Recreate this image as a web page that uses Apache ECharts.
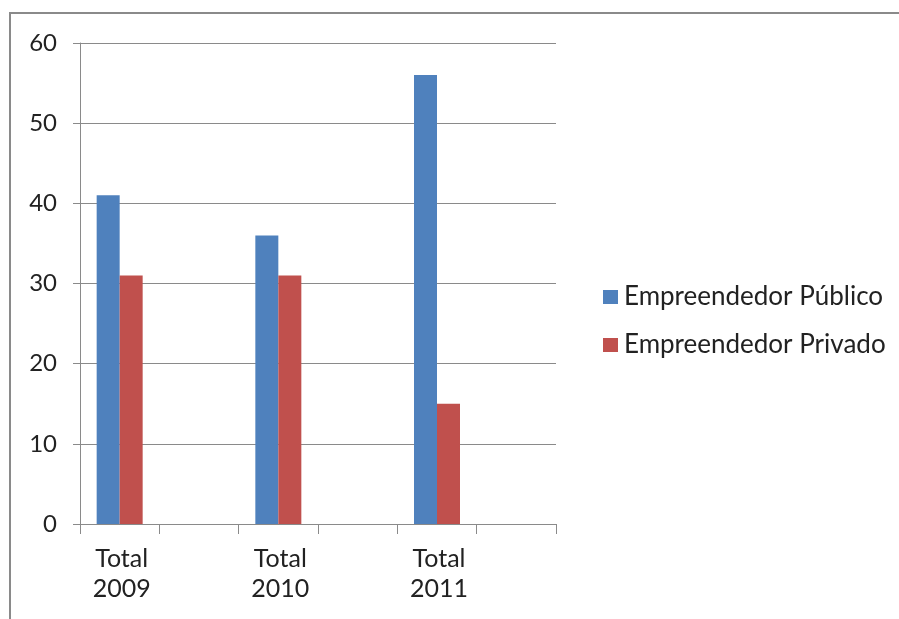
<!DOCTYPE html>
<html><head><meta charset="utf-8">
<script src="https://cdn.jsdelivr.net/npm/echarts@6/dist/echarts.min.js"></script>
<style>html,body{margin:0;padding:0;background:#fff}#c{width:899px;height:619px}</style>
</head><body><div id="c"></div>
<script>
const categories = ['Total\n2009', '', 'Total\n2010', '', 'Total\n2011', ''];
const publico = [41, null, 36, null, 56, null];
const privado = [31, null, 31, null, 15, null];
const seriesNames = ['Empreendedor Público', 'Empreendedor Privado'];
const yTicks = { min: 0, max: 60, interval: 10 };

const FONT = 'Lato';
const chart = echarts.init(document.getElementById('c'), null, { renderer: 'canvas' });
chart.setOption({
  animation: false,
  backgroundColor: '#fff',
  textStyle: { fontFamily: FONT },
  graphic: [{
    type: 'rect', z: -1, silent: true,
    shape: { x: 10, y: 13, width: 1000, height: 1000 },
    style: { fill: 'none', stroke: '#8a8a8a', lineWidth: 2 }
  }],
  grid: { left: 80, right: 343, top: 43, bottom: 95, containLabel: false },
  legend: {
    orient: 'vertical', left: 598, top: 279,
    itemWidth: 15, itemHeight: 14, itemGap: 22,
    icon: 'rect',
    textStyle: { fontFamily: FONT, fontSize: 26, color: '#222', padding: [0, 0, 0, 1] },
    data: seriesNames
  },
  xAxis: {
    type: 'category', data: categories,
    axisLine: { lineStyle: { color: '#8a8a8a', width: 1 } },
    axisTick: { show: true, interval: 0, alignWithLabel: false, length: 10, lineStyle: { color: '#8a8a8a' } },
    axisLabel: { interval: 0, fontSize: 25, color: '#222', margin: 20, lineHeight: 30, fontFamily: FONT, padding: [0, 0, 0, 4] }
  },
  yAxis: {
    type: 'value', min: yTicks.min, max: yTicks.max, interval: yTicks.interval,
    axisLine: { show: true, lineStyle: { color: '#8a8a8a', width: 1 } },
    axisTick: { show: true, length: 7, inside: false, lineStyle: { color: '#8a8a8a' } },
    splitLine: { lineStyle: { color: '#8a8a8a', width: 1 } },
    axisLabel: { fontSize: 24, color: '#222', margin: 23, fontFamily: FONT }
  },
  series: [
    { name: seriesNames[0], type: 'bar', data: publico, barWidth: 23, barGap: '0%', itemStyle: { color: '#4F81BD' } },
    { name: seriesNames[1], type: 'bar', data: privado, barWidth: 23, barGap: '0%', itemStyle: { color: '#C0504D' } }
  ]
});
</script></body></html>
